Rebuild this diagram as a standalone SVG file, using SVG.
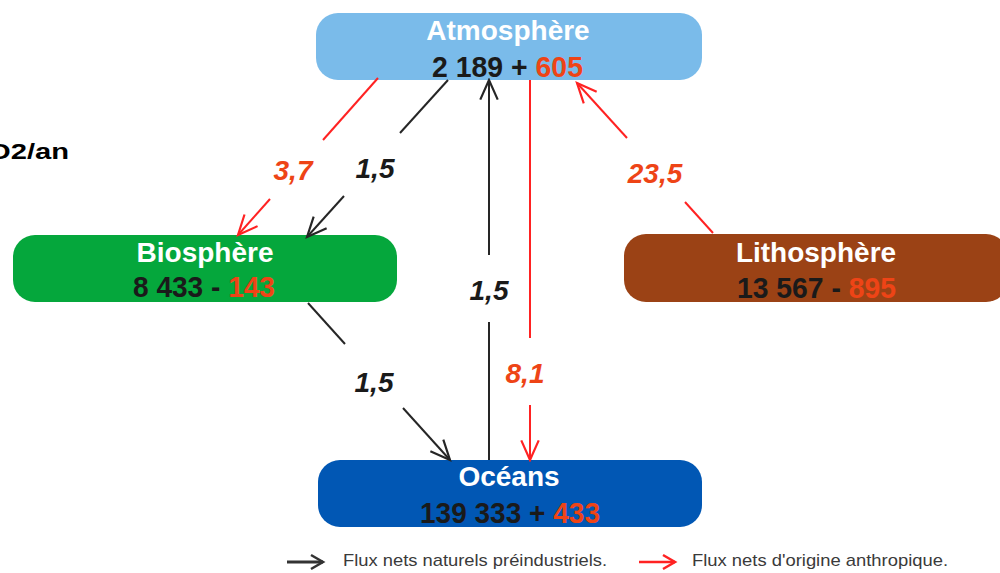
<svg xmlns="http://www.w3.org/2000/svg" width="1000" height="573" viewBox="0 0 1000 573">
<style>
text{font-family:"Liberation Sans",Arial,sans-serif;font-weight:bold}
.title{fill:#ffffff;font-size:28px;text-anchor:middle}
.num{font-size:29px}
.blk{fill:#1a1a1a}
.red{fill:#ee4416}
.lbl{font-size:28px;font-style:italic;text-anchor:middle}
.lk{stroke:#262626;stroke-width:2;fill:none}
.lr{stroke:#ff2222;stroke-width:2;fill:none}
.leg{font-weight:normal;font-size:17px;fill:#3a3a3a}
</style>
<defs>
<marker id="ak" markerUnits="userSpaceOnUse" markerWidth="24" markerHeight="24" viewBox="-20 -10 22 20" refX="0" refY="0" orient="auto">
<path d="M-18,-8 L0,0 L-18,8" fill="none" stroke="#262626" stroke-width="2"/>
</marker>
<marker id="ar" markerUnits="userSpaceOnUse" markerWidth="24" markerHeight="24" viewBox="-20 -10 22 20" refX="0" refY="0" orient="auto">
<path d="M-18,-8 L0,0 L-18,8" fill="none" stroke="#ff2222" stroke-width="2"/>
</marker>
<marker id="lk" markerUnits="userSpaceOnUse" markerWidth="18" markerHeight="18" viewBox="-15 -9 17 18" refX="0" refY="0" orient="auto">
<path d="M-12,-7 L0,0 L-12,7" fill="none" stroke="#333333" stroke-width="2.5"/>
</marker>
<marker id="lr" markerUnits="userSpaceOnUse" markerWidth="18" markerHeight="18" viewBox="-15 -9 17 18" refX="0" refY="0" orient="auto">
<path d="M-12,-7 L0,0 L-12,7" fill="none" stroke="#ff2222" stroke-width="2.5"/>
</marker>
</defs>
<rect width="1000" height="573" fill="#ffffff"/>

<text x="-12" y="159" font-size="22" textLength="81" lengthAdjust="spacingAndGlyphs" fill="#000000">O2/an</text>

<g id="atmosphere">
<rect x="316" y="13" width="386" height="67" rx="22" fill="#7abbea"/>
<text class="title" x="508" y="40">Atmosphère</text>
<text class="num" x="432" y="77" textLength="151" lengthAdjust="spacingAndGlyphs"><tspan class="blk">2 189 + </tspan><tspan class="red">605</tspan></text>
</g>

<g id="biosphere">
<rect x="13" y="235" width="384" height="67" rx="22" fill="#05a73c"/>
<text class="title" x="205" y="262">Biosphère</text>
<text class="num" x="133" y="297" textLength="142" lengthAdjust="spacingAndGlyphs"><tspan class="blk">8 433 - </tspan><tspan class="red">143</tspan></text>
</g>

<g id="lithosphere">
<rect x="624" y="234" width="384" height="68" rx="22" fill="#9b4215"/>
<text class="title" x="816" y="262">Lithosphère</text>
<text class="num" x="737" y="298" textLength="159" lengthAdjust="spacingAndGlyphs"><tspan class="blk">13 567 - </tspan><tspan class="red">895</tspan></text>
</g>

<g id="oceans">
<rect x="318" y="460" width="384" height="67" rx="22" fill="#0157b4"/>
<text class="title" x="509" y="486">Océans</text>
<text class="num" x="420" y="523" textLength="180" lengthAdjust="spacingAndGlyphs"><tspan class="blk">139 333 + </tspan><tspan class="red">433</tspan></text>
</g>

<g id="connectors">
<line class="lr" x1="378" y1="78" x2="323" y2="140"/>
<line class="lr" x1="270" y1="199" x2="238" y2="235" marker-end="url(#ar)"/>
<text class="lbl red" x="293" y="180">3,7</text>

<line class="lk" x1="448" y1="80" x2="400" y2="133"/>
<line class="lk" x1="344" y1="196" x2="307" y2="237" marker-end="url(#ak)"/>
<text class="lbl blk" x="375" y="178">1,5</text>

<line class="lk" x1="489" y1="460" x2="489" y2="322"/>
<line class="lk" x1="489" y1="255" x2="489" y2="80" marker-end="url(#ak)"/>
<text class="lbl blk" x="489" y="300">1,5</text>

<line class="lr" x1="530" y1="80" x2="530" y2="338"/>
<line class="lr" x1="530" y1="405" x2="530" y2="460" marker-end="url(#ar)"/>
<text class="lbl red" x="525" y="383">8,1</text>

<line class="lr" x1="713" y1="233" x2="685" y2="202"/>
<line class="lr" x1="627" y1="138" x2="577" y2="83" marker-end="url(#ar)"/>
<text class="lbl red" x="655" y="183">23,5</text>

<line class="lk" x1="308" y1="303" x2="345" y2="344"/>
<line class="lk" x1="403" y1="408" x2="450" y2="460" marker-end="url(#ak)"/>
<text class="lbl blk" x="374" y="392">1,5</text>
</g>

<g id="legend">
<line x1="287" y1="562" x2="323" y2="562" stroke="#333333" stroke-width="3" marker-end="url(#lk)"/>
<text class="leg" x="343" y="566" textLength="264" lengthAdjust="spacingAndGlyphs">Flux nets naturels préindustriels.</text>
<line x1="639" y1="562" x2="675" y2="562" stroke="#ff2222" stroke-width="2.5" marker-end="url(#lr)"/>
<text class="leg" x="692" y="566" textLength="256" lengthAdjust="spacingAndGlyphs">Flux nets d'origine anthropique.</text>
</g>
</svg>
